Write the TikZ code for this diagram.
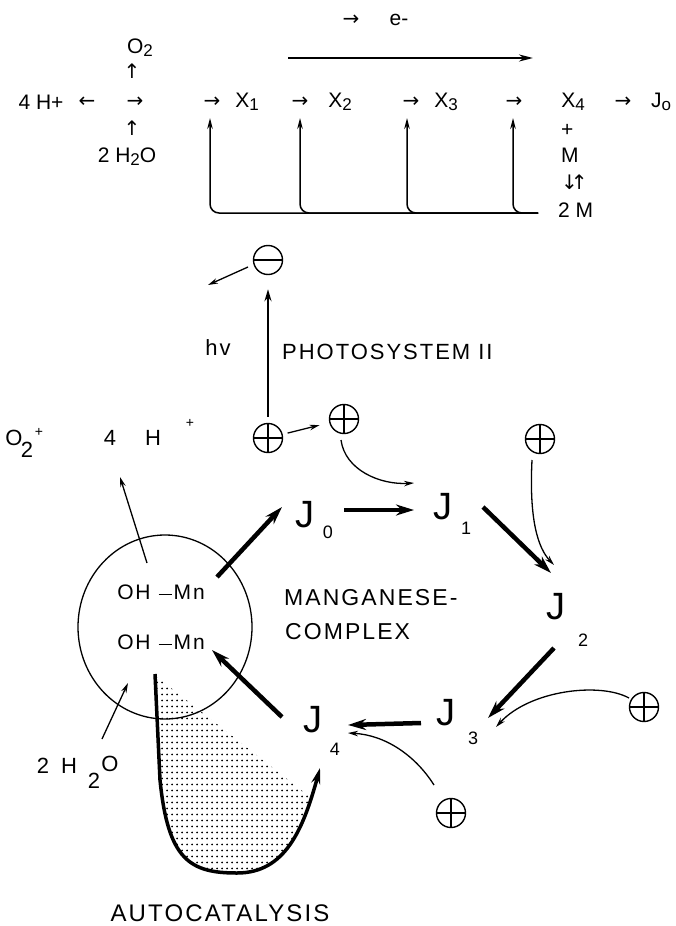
\documentclass[tikz,border=0pt]{standalone}
\usepackage{fontspec}
\setmainfont{Liberation Sans}
\newfontfamily\arrfont{DejaVu Sans}
\newfontfamily\lett{Liberation Sans}[LetterSpace=9]
\usetikzlibrary{arrows.meta,calc,patterns,shapes.geometric}
\pgfdeclarepatternformonly{autodots}{\pgfpointorigin}{\pgfpoint{5pt}{5.5pt}}{\pgfpoint{5pt}{5.5pt}}{\pgfpathcircle{\pgfpoint{2.5pt}{2.75pt}}{1.1pt}\pgfusepath{fill}}
\newcommand{\lowidx}[1]{\raisebox{-3pt}{\fontsize{17}{17}\selectfont #1}}
\newcommand{\ohmn}{OH\hspace{8pt}\rule[4pt]{13pt}{1.6pt}\hspace{2pt}Mn}
\begin{document}
\begin{tikzpicture}[x=1pt,y=-1pt,
  toptxt/.style={font=\fontsize{21}{24}\selectfont, inner sep=0pt},
  tarr/.style={font=\arrfont\fontsize{20}{22}\selectfont, inner sep=0pt},
  lt/.style={font=\lett\fontsize{22}{26}\selectfont, inner sep=0pt},
  jn/.style={font=\fontsize{38}{40}\selectfont, inner sep=0pt},
  js/.style={font=\fontsize{18}{20}\selectfont, inner sep=0pt},
  chg/.style={circle, draw, line width=1.4pt, minimum size=29pt, inner sep=0pt},
  plus/.style={chg, path picture={\draw[line width=1.8pt] (path picture bounding box.west) -- (path picture bounding box.east) (path picture bounding box.north) -- (path picture bounding box.south);}},
  minus/.style={chg, path picture={\draw[line width=1.8pt] (path picture bounding box.west) -- (path picture bounding box.east);}},
  thinarr/.style={line width=1.3pt, -{Stealth[length=10pt,width=5.5pt]}},
  thickarr/.style={line width=4.5pt, -{Stealth[length=18pt,width=11pt]}},
  tarrow/.style={line width=1.5pt, -{Stealth[length=11pt,width=5.5pt]}}]
\useasboundingbox (0,0) rectangle (676,926);

% ---------------- top scheme ----------------
\node[tarr] (ea) at (351,20) {→};
\node[toptxt] (el) at (399,20) {e-};
\coordinate (eb1) at (288,58);
\coordinate (eb2) at (533,58);
\draw[line width=2pt,-{Stealth[length=14pt,width=7pt]}] (eb1) -- (eb2);

\node[toptxt] (o2) at (140,48) {O\lowidx{2}};
\node[tarr] (up1) at (132,71) {↑};
\node[toptxt] (h4) at (41,102) {4 H+};
\node[tarr] (la) at (87,102) {←};
\node[tarr] (ra) at (135,102) {→};
\node[tarr] (up2) at (132,128) {↑};
\node[toptxt] (wat) at (127,157) {2 H\lowidx{2}O};

\node[tarr] (a1) at (212,102) {→};
\node[toptxt] (x1) at (247,102) {X\lowidx{1}};
\node[tarr] (a2) at (300,102) {→};
\node[toptxt] (x2) at (340,102) {X\lowidx{2}};
\node[tarr] (a3) at (411,102) {→};
\node[toptxt] (x3) at (446,102) {X\lowidx{3}};
\node[tarr] (a4) at (514,102) {→};
\node[toptxt] (x4) at (573,102) {X\lowidx{4}};
\node[tarr] (a5) at (623,102) {→};
\node[toptxt] (j0t) at (661,102) {J\lowidx{o}};
\node[toptxt,anchor=west] (pl) at (561,130) {+};
\node[toptxt,anchor=west] (mm) at (561,155) {M};
\node[tarr,anchor=west] (ud) at (561,182) {↓\hspace{-7pt}↑};
\node[toptxt,anchor=west] (m2) at (558,210) {2 M};

\coordinate (le) at (538,213);
\foreach \a/\dx in {a1/-2,a2/0,a3/-4,a4/-1}
  \draw[tarrow, rounded corners=9pt] (le) -| ($(\a)+(\dx,16)$);

% ---------------- photosystem ----------------
\node[minus] (mi) at (268,260) {};
\coordinate (eo) at (208,285);
\draw[thinarr] ($(mi)+(-20,7)$) -- (eo);
\node[plus] (p0) at (268,438) {};
\draw[line width=2pt, -{Stealth[length=12pt,width=7pt]}, shorten <=6pt, shorten >=14pt] (p0) -- (mi);
\node[lt] (hv) at (218,348) {hv};
\node[lt,anchor=west] (ps) at (282,352) {PHOTOSYSTEM II};
\node[plus] (p2) at (344,419) {};
\draw[thinarr, shorten <=5pt, shorten >=10pt] (p0) -- (p2);
\node[plus] (p3) at (540,439) {};
\node[plus] (pR) at (644,707) {};
\node[plus] (pB) at (451,813) {};

% O2 + 4 H+
\node[lt] (q1) at (14,438) {O};
\node[lt] (q2) at (27,450) {2};
\node[lt, font=\lett\fontsize{14}{16}\selectfont] (q3) at (39,432) {+};
\node[lt] (q4) at (110,438) {4};
\node[lt] (q5) at (153,438) {H};
\node[lt, font=\lett\fontsize{14}{16}\selectfont] (q6) at (190,423) {+};

% ---------------- manganese complex ----------------
\node[draw, ellipse, line width=1.3pt, minimum width=174pt, minimum height=184pt, inner sep=0pt] (mnc) at (165,627) {};
\node[lt, font=\lett\fontsize{21}{24}\selectfont] (oh1) at (161,592) {\ohmn};
\node[lt, font=\lett\fontsize{21}{24}\selectfont] (oh2) at (161,642) {\ohmn};
\node[lt, font=\lett\fontsize{23}{26}\selectfont, anchor=west] (mg) at (284,598) {MANGANESE-};
\node[lt, font=\lett\fontsize{23}{26}\selectfont, anchor=west] (cx) at (285,632) {COMPLEX};

\node[jn] (J0) at (305,515) {J};  \node[js] (J0s) at (328,532) {0};
\node[jn] (J1) at (443,507) {J};  \node[js] (J1s) at (466,528) {1};
\node[jn] (J2) at (556,607) {J};  \node[js] (J2s) at (583,640) {2};
\node[jn] (J3) at (446,713) {J};  \node[js] (J3s) at (473,738) {3};
\node[jn] (J4) at (313,720) {J};  \node[js] (J4s) at (335,749) {4};

\draw[thickarr] ($(oh1)+(56,-15)$) -- ($(J0)+(-23,-8)$);
\draw[thickarr] ($(J0)+(39,-5)$) -- ($(J1)+(-29,3)$);
\draw[thickarr] ($(J1)+(40,0)$) -- ($(J2)+(-5,-34)$);
\draw[thickarr] ($(J2)+(-2,41)$) -- ($(J3)+(42,5)$);
\draw[thickarr] ($(J3)+(-25,10)$) -- ($(J4)+(35,5)$);
\draw[thickarr] ($(J4)+(-31,-3)$) -- ($(oh2)+(51,8)$);

\draw[thinarr] ($(p2)+(-3,21)$) .. controls (345,470) and (380,485) .. ($(J1)+(-29,-24)$);
\draw[thinarr] ($(p3)+(-8,21)$) .. controls (529,520) and (538,548) .. ($(J2)+(-2,-42)$);
\draw[thinarr] ($(pR)+(-15,-9)$) .. controls (600,682) and (530,690) .. ($(J3)+(50,14)$);
\draw[thinarr] ($(pB)+(-17,-28)$) .. controls (415,755) and (385,735) .. ($(J4)+(35,13)$);

\draw[thinarr] ($(oh1)+(-14,-29)$) -- ($(q4)+(10,39)$);
\node[lt] (w1) at (43,766) {2};
\node[lt] (w2) at (69,766) {H};
\node[lt] (w3) at (94,781) {2};
\node[lt] (w4) at (110,764) {O};
\draw[thinarr] ($(w2)+(33,-27)$) -- ($(oh2)+(-33,41)$);

% ---------------- autocatalysis ----------------
\fill[pattern=autodots] (157,677) -- (160,780) .. controls (168,860) and (190,873) .. (237,873) .. controls (280,873) and (297,843) .. (310,797) -- cycle;
\draw[line width=3.5pt, -{Stealth[length=16pt,width=9pt]}] ($(mnc)+(-10,47)$) -- (160,780) .. controls (168,860) and (190,873) .. (237,873) .. controls (285,873) and (303,830) .. ($(J4)+(7,48)$);
\node[lt, font=\lett\fontsize{24}{28}\selectfont] (ac) at (220,913) {AUTOCATALYSIS};
\end{tikzpicture}
\end{document}
